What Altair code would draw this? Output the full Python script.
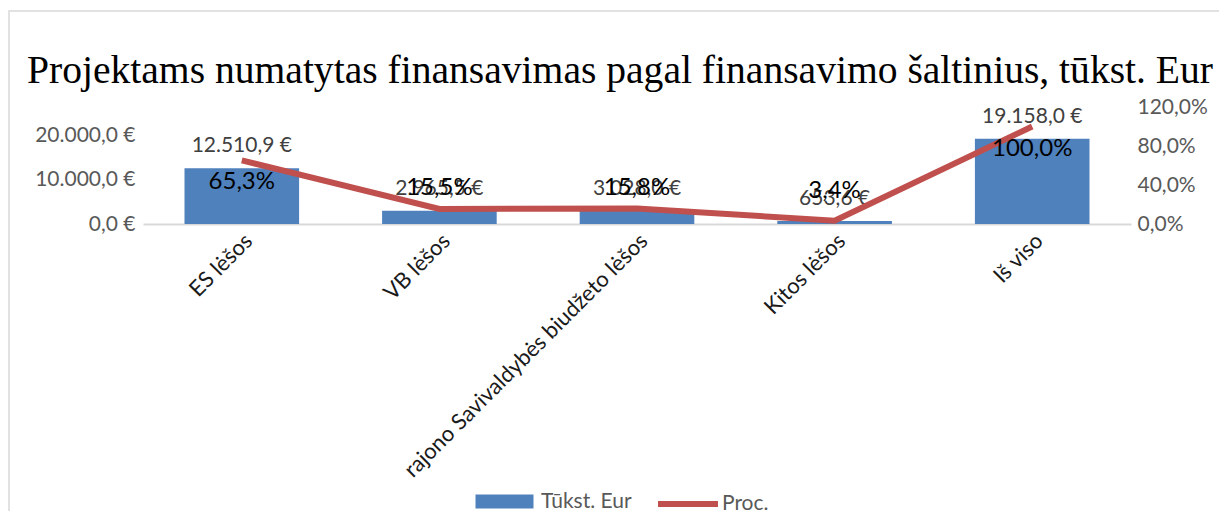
import altair as alt
import pandas as pd

categories = ["ES lėšos", "VB lėšos", "rajono Savivaldybės biudžeto lėšos", "Kitos lėšos", "Iš viso"]
amounts = [12510.9, 2965.5, 3028.0, 653.6, 19158.0]
amount_labels = ["12.510,9 €", "2.965,5 €", "3.028,0 €", "653,6 €", "19.158,0 €"]
shares = [0.653, 0.155, 0.158, 0.034, 1.0]
share_labels = ["65,3%", "15,5%", "15,8%", "3,4%", "100,0%"]
below_cats = ["ES lėšos", "Iš viso"]
above_cats = ["VB lėšos", "rajono Savivaldybės biudžeto lėšos"]
high_cats = ["Kitos lėšos"]
series_names = ["Tūkst. Eur", "Proc."]

df = pd.DataFrame({
    "cat": categories,
    "amount": amounts,
    "amount_label": amount_labels,
    "share": shares,
    "share_label": share_labels,
    "s_bar": [series_names[0]] * len(categories),
    "s_line": [series_names[1]] * len(categories),
})

FONT = "Lato"
BLUE = "#4F81BD"
RED = "#C0504D"

x_axis = alt.Axis(labelAngle=-45, labelFontSize=22, labelFont=FONT, labelColor="#1a1a1a",
                  ticks=False, domainColor="#D9D9D9", domainWidth=2, labelPadding=6,
                  labelLimit=500, title=None)
x_scale = alt.Scale(paddingInner=0.42, paddingOuter=0.21)


def xe():
    return alt.X("cat:N", sort=categories, title=None, scale=x_scale, axis=x_axis)


left_axis = alt.Axis(values=[0, 10000, 20000], grid=False, ticks=False, domain=False, labelOverlap=False,
                     labelFont=FONT, labelFontSize=21, labelColor="#595959", labelPadding=8, title=None,
                     labelExpr="replace(replace(replace(format(datum.value, ',.1f'), regexp(',', 'g'), 'X'), regexp('\\\\.', 'g'), ','), regexp('X', 'g'), '.') + ' €'")
left_scale = alt.Scale(domain=[0, 26300], nice=False, zero=True)


def yl():
    return alt.Y("amount:Q", title=None, scale=left_scale, axis=left_axis)


right_axis = alt.Axis(orient="right", values=[0, 0.4, 0.8, 1.2], grid=False, ticks=False, domain=False,
                      labelOverlap=False, title=None,
                      labelFont=FONT, labelFontSize=21, labelColor="#595959", labelPadding=6,
                      labelExpr="replace(format(datum.value, '.1%'), '.', ',')")
right_scale = alt.Scale(domain=[0, 1.2], nice=False)


def yr():
    return alt.Y("share:Q", title=None, scale=right_scale, axis=right_axis)


base = alt.Chart(df)

bars = base.mark_bar().encode(
    x=xe(),
    y=yl(),
    color=alt.Color("s_bar:N", scale=alt.Scale(range=[BLUE]),
                    legend=alt.Legend(title=None, orient="none", legendX=351, legendY=384,
                                      symbolType="M-2.9,-0.7H2.9V0.7H-2.9Z", symbolSize=400,
                                      symbolStrokeWidth=0, symbolOpacity=1, labelFont=FONT, labelFontSize=21,
                                      labelColor="#595959", labelOffset=26)),
)
bar_text = base.mark_text(font=FONT, fontSize=21, color="#404040", baseline="bottom", dy=-12).encode(
    x=xe(),
    y=yl(),
    text="amount_label:N",
)
left = alt.layer(bars, bar_text)

line = base.mark_line(strokeWidth=6).encode(
    x=xe(),
    y=yr(),
    color=alt.Color("s_line:N", scale=alt.Scale(range=[RED]),
                    legend=alt.Legend(title=None, orient="none", legendX=532, legendY=384,
                                      symbolType="M-3,0H3", symbolSize=400, symbolStrokeWidth=6,
                                      symbolStrokeColor=RED,
                                      labelFont=FONT, labelFontSize=21,
                                      labelColor="#595959", labelOffset=21)),
)


def pct_layer(cats, dy):
    return base.transform_filter(
        alt.FieldOneOfPredicate(field="cat", oneOf=cats)
    ).mark_text(font=FONT, fontSize=24, color="#000000", baseline="middle", dy=dy).encode(
        x=xe(),
        y=yr(),
        text="share_label:N",
    )


right = alt.layer(line, pct_layer(below_cats, 22), pct_layer(above_cats, -21), pct_layer(high_cats, -30))

border = alt.Chart(alt.Data(values=[{"a": 1}])).mark_rect(
    fill="white", fillOpacity=0, stroke="#D9D9D9", strokeWidth=1.5
).encode(
    x=alt.value(-134), x2=alt.value(1200), y=alt.value(-96), y2=alt.value(500)
)

chart = alt.layer(border, left, right).resolve_scale(
    y="independent", color="independent"
).properties(
    width=988, height=117,
    padding={"left": 135, "top": 99, "right": 88, "bottom": 287},
    autosize=alt.AutoSizeParams(type="none"),
    title=alt.Title("Projektams numatytas finansavimas pagal finansavimo šaltinius, tūkst. Eur",
                    font="Liberation Serif", fontSize=39.6, fontWeight="normal", color="#000000",
                    anchor="middle", dx=-17, offset=-81),
).configure_view(stroke=None)

chart.save("out.html", embed_options={"renderer": "svg", "actions": False})
